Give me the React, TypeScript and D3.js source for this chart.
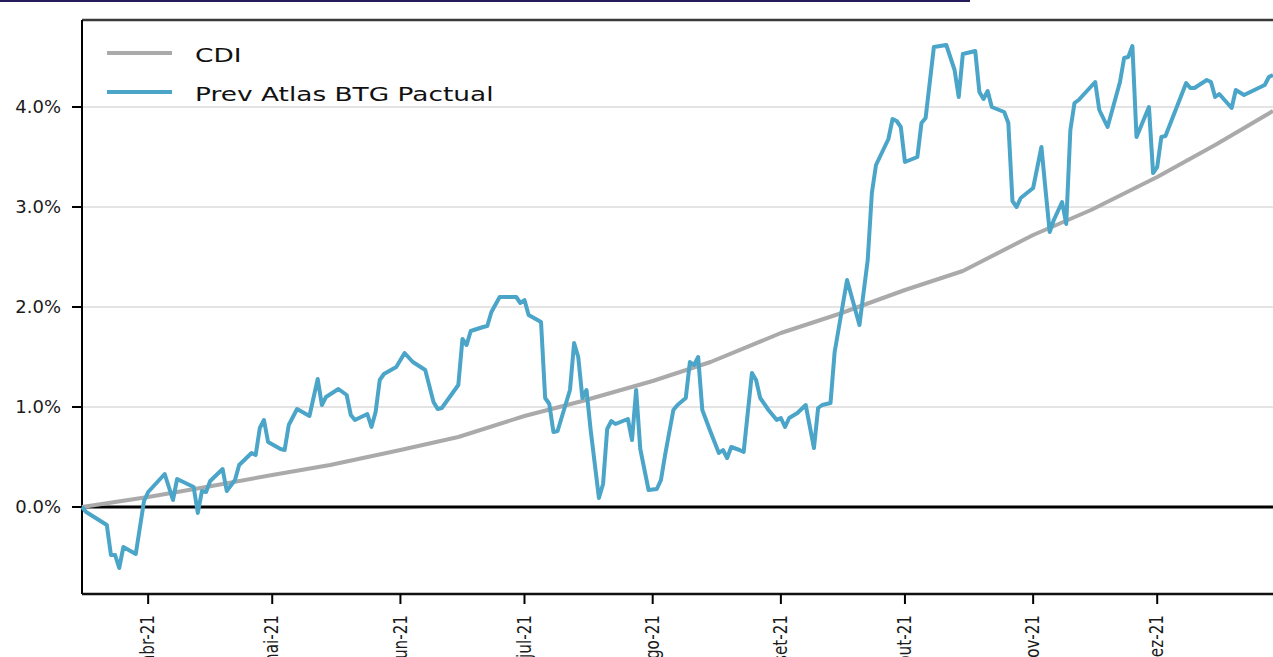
import React, { useEffect, useRef } from "react";
import * as d3 from "d3";

// Prev Atlas BTG Pactual vs CDI, accumulated return (%)
const fundDates = [
  "2021-03-16", "2021-03-17", "2021-03-22", "2021-03-23", "2021-03-24", "2021-03-25", "2021-03-26", "2021-03-29",
  "2021-03-31", "2021-04-01", "2021-04-05", "2021-04-07", "2021-04-08", "2021-04-12", "2021-04-13", "2021-04-14",
  "2021-04-15", "2021-04-16", "2021-04-19", "2021-04-20", "2021-04-22", "2021-04-23", "2021-04-26", "2021-04-27",
  "2021-04-28", "2021-04-29", "2021-04-30", "2021-05-03", "2021-05-04", "2021-05-05", "2021-05-07", "2021-05-10",
  "2021-05-12", "2021-05-13", "2021-05-14", "2021-05-17", "2021-05-19", "2021-05-20", "2021-05-21", "2021-05-24",
  "2021-05-25", "2021-05-26", "2021-05-27", "2021-05-28", "2021-05-31", "2021-06-02", "2021-06-04", "2021-06-07",
  "2021-06-09", "2021-06-10", "2021-06-11", "2021-06-15", "2021-06-16", "2021-06-17", "2021-06-18", "2021-06-21",
  "2021-06-22", "2021-06-23", "2021-06-25", "2021-06-28", "2021-06-29", "2021-06-30", "2021-07-01", "2021-07-02",
  "2021-07-05", "2021-07-06", "2021-07-07", "2021-07-08", "2021-07-09", "2021-07-12", "2021-07-13", "2021-07-14",
  "2021-07-15", "2021-07-16", "2021-07-17", "2021-07-19", "2021-07-20", "2021-07-21", "2021-07-22", "2021-07-23",
  "2021-07-26", "2021-07-27", "2021-07-28", "2021-07-29", "2021-07-31", "2021-08-02", "2021-08-03", "2021-08-04",
  "2021-08-06", "2021-08-07", "2021-08-09", "2021-08-10", "2021-08-11", "2021-08-12", "2021-08-13", "2021-08-15",
  "2021-08-17", "2021-08-18", "2021-08-19", "2021-08-20", "2021-08-22", "2021-08-23", "2021-08-25", "2021-08-26",
  "2021-08-27", "2021-08-29", "2021-08-31", "2021-09-01", "2021-09-02", "2021-09-03", "2021-09-05", "2021-09-07",
  "2021-09-09", "2021-09-10", "2021-09-11", "2021-09-13", "2021-09-14", "2021-09-17", "2021-09-20", "2021-09-22",
  "2021-09-23", "2021-09-24", "2021-09-27", "2021-09-28", "2021-09-29", "2021-09-30", "2021-10-01", "2021-10-04",
  "2021-10-05", "2021-10-06", "2021-10-08", "2021-10-11", "2021-10-13", "2021-10-14", "2021-10-15", "2021-10-18",
  "2021-10-19", "2021-10-20", "2021-10-21", "2021-10-22", "2021-10-25", "2021-10-26", "2021-10-27", "2021-10-28",
  "2021-10-29", "2021-11-01", "2021-11-03", "2021-11-04", "2021-11-05", "2021-11-06", "2021-11-08", "2021-11-09",
  "2021-11-10", "2021-11-11", "2021-11-12", "2021-11-16", "2021-11-17", "2021-11-19", "2021-11-22", "2021-11-23",
  "2021-11-24", "2021-11-25", "2021-11-26", "2021-11-29", "2021-11-30", "2021-12-01", "2021-12-02", "2021-12-03",
  "2021-12-08", "2021-12-09", "2021-12-10", "2021-12-13", "2021-12-14", "2021-12-15", "2021-12-16", "2021-12-19",
  "2021-12-20", "2021-12-22", "2021-12-27", "2021-12-28", "2021-12-29",
];
const fundValues = [
  0.0, -0.05, -0.18, -0.48, -0.48, -0.61, -0.4, -0.47,
  0.06, 0.15, 0.33, 0.07, 0.28, 0.2, -0.06, 0.16,
  0.15, 0.26, 0.38, 0.16, 0.27, 0.42, 0.54, 0.52,
  0.79, 0.87, 0.65, 0.58, 0.57, 0.82, 0.98, 0.91,
  1.28, 1.02, 1.1, 1.18, 1.12, 0.92, 0.87, 0.93,
  0.8, 0.95, 1.27, 1.33, 1.4, 1.54, 1.45, 1.37,
  1.05, 0.98, 0.99, 1.22, 1.68, 1.62, 1.76, 1.8,
  1.81, 1.95, 2.1, 2.1, 2.1, 2.04, 2.07, 1.92,
  1.85, 1.09, 1.03, 0.75, 0.76, 1.17, 1.64, 1.5,
  1.09, 1.17, 0.77, 0.09, 0.23, 0.78, 0.86, 0.83,
  0.88, 0.67, 1.17, 0.58, 0.17, 0.18, 0.27, 0.52,
  0.97, 1.02, 1.09, 1.45, 1.42, 1.5, 0.97, 0.75,
  0.54, 0.57, 0.49, 0.6, 0.57, 0.55, 1.34, 1.27,
  1.09, 0.97, 0.87, 0.89, 0.8, 0.89, 0.94, 1.02,
  0.59, 0.99, 1.02, 1.04, 1.55, 2.27, 1.82, 2.47,
  3.14, 3.42, 3.68, 3.88, 3.86, 3.8, 3.45, 3.5,
  3.84, 3.89, 4.6, 4.62, 4.37, 4.1, 4.53, 4.56,
  4.15, 4.08, 4.16, 4.0, 3.95, 3.84, 3.06, 3.0,
  3.09, 3.19, 3.6, 3.17, 2.75, 2.87, 3.05, 2.83,
  3.77, 4.04, 4.07, 4.25, 3.97, 3.8, 4.25, 4.49,
  4.5, 4.61, 3.7, 4.0, 3.34, 3.4, 3.7, 3.71,
  4.24, 4.19, 4.19, 4.27, 4.25, 4.1, 4.13, 3.99,
  4.17, 4.12, 4.22, 4.3, 4.32,
];

const cdiDates = [
  "2021-03-16", "2021-04-01", "2021-04-15", "2021-05-01", "2021-05-15", "2021-06-01", "2021-06-15",
  "2021-07-01", "2021-07-15", "2021-08-01", "2021-08-15", "2021-09-01", "2021-09-15", "2021-10-01",
  "2021-10-15", "2021-11-01", "2021-11-15", "2021-12-01", "2021-12-15", "2021-12-29",
];
const cdiValues = [
  0.0, 0.1, 0.2, 0.32, 0.42, 0.57, 0.7,
  0.91, 1.06, 1.26, 1.45, 1.74, 1.93, 2.17,
  2.36, 2.72, 2.97, 3.3, 3.62, 3.96,
];

const monthTicks = [
  "2021-04-01", "2021-05-01", "2021-06-01", "2021-07-01", "2021-08-01",
  "2021-09-01", "2021-10-01", "2021-11-01", "2021-12-01",
];
const monthLabels = ["abr-21", "mai-21", "jun-21", "jul-21", "ago-21", "set-21", "out-21", "nov-21", "dez-21"];
const yTicks = [0, 1, 2, 3, 4];
const seriesNames = ["CDI", "Prev Atlas BTG Pactual"];
const seriesColors = ["#aaaaaa", "#4aa5c9"];

const App = () => {
  const chartRef = useRef(null);

  useEffect(() => {
    const width = 1273;
    const height = 657;
    const margin = { top: 20, right: 0, bottom: 63, left: 82 };
    const parse = d3.timeParse("%Y-%m-%d");

    const svg = d3.select(chartRef.current);
    svg.selectAll("*").remove();
    svg.attr("width", width).attr("height", height);

    const x = d3
      .scaleTime()
      .domain([parse("2021-03-16"), parse("2021-12-29")])
      .range([margin.left, width - margin.right]);

    const y = d3
      .scaleLinear()
      .domain([-0.87, 4.87])
      .range([height - margin.bottom, margin.top]);

    const font = "DejaVu Sans, Verdana, sans-serif";

    // cut-off title underline at the very top
    svg.append("rect").attr("x", 0).attr("y", 0).attr("width", 970).attr("height", 2).attr("fill", "#251c5e");

    // grid
    svg
      .selectAll(".grid")
      .data(yTicks.filter((d) => d !== 0))
      .enter()
      .append("line")
      .attr("x1", margin.left)
      .attr("x2", width)
      .attr("y1", (d) => y(d))
      .attr("y2", (d) => y(d))
      .attr("stroke", "#e4e4e4")
      .attr("stroke-width", 2);

    // zero line
    svg
      .append("line")
      .attr("x1", margin.left)
      .attr("x2", width)
      .attr("y1", y(0))
      .attr("y2", y(0))
      .attr("stroke", "#000")
      .attr("stroke-width", 3);

    // frame
    svg
      .append("line")
      .attr("x1", margin.left)
      .attr("x2", width)
      .attr("y1", margin.top)
      .attr("y2", margin.top)
      .attr("stroke", "#3a3a3a")
      .attr("stroke-width", 2.5);
    svg
      .append("line")
      .attr("x1", margin.left)
      .attr("x2", margin.left)
      .attr("y1", margin.top)
      .attr("y2", height - margin.bottom)
      .attr("stroke", "#000")
      .attr("stroke-width", 2);
    svg
      .append("line")
      .attr("x1", margin.left)
      .attr("x2", width)
      .attr("y1", height - margin.bottom)
      .attr("y2", height - margin.bottom)
      .attr("stroke", "#111")
      .attr("stroke-width", 2.5);

    // y axis
    const yAxis = svg.append("g");
    yTicks.forEach((t) => {
      yAxis
        .append("line")
        .attr("x1", margin.left - 10)
        .attr("x2", margin.left)
        .attr("y1", y(t))
        .attr("y2", y(t))
        .attr("stroke", "#000")
        .attr("stroke-width", 2);
      yAxis
        .append("text")
        .attr("x", margin.left - 21)
        .attr("y", y(t))
        .attr("dy", "0.36em")
        .attr("text-anchor", "end")
        .attr("font-family", font)
        .attr("font-size", 18)
        .attr("fill", "#1a1a1a")
        .text(d3.format(".1f")(t) + "%");
    });

    // x axis
    const xAxis = svg.append("g");
    monthTicks.forEach((t, i) => {
      const px = x(parse(t));
      xAxis
        .append("line")
        .attr("x1", px)
        .attr("x2", px)
        .attr("y1", height - margin.bottom)
        .attr("y2", height - margin.bottom + 10)
        .attr("stroke", "#000")
        .attr("stroke-width", 2);
      xAxis
        .append("text")
        .attr("transform", `translate(${px - 1},${height - margin.bottom + 21}) rotate(-90) scale(0.76,1)`)
        .attr("text-anchor", "end")
        .attr("dy", "0.36em")
        .attr("font-family", font)
        .attr("font-size", 20)
        .attr("fill", "#1a1a1a")
        .text(monthLabels[i]);
    });

    const line = d3
      .line()
      .x((d) => x(d[0]))
      .y((d) => y(d[1]))
      .curve(d3.curveLinear);

    const cdi = cdiDates.map((d, i) => [parse(d), cdiValues[i]]);
    const fund = fundDates.map((d, i) => [parse(d), fundValues[i]]);

    svg
      .append("path")
      .datum(cdi)
      .attr("d", line)
      .attr("fill", "none")
      .attr("stroke", seriesColors[0])
      .attr("stroke-width", 4)
      .attr("stroke-linejoin", "round");

    svg
      .append("path")
      .datum(fund)
      .attr("d", line)
      .attr("fill", "none")
      .attr("stroke", seriesColors[1])
      .attr("stroke-width", 4)
      .attr("stroke-linejoin", "round");

    // legend
    const legend = svg.append("g");
    seriesNames.forEach((name, i) => {
      const ly = 53 + i * 39;
      legend
        .append("line")
        .attr("x1", 107)
        .attr("x2", 172)
        .attr("y1", ly)
        .attr("y2", ly)
        .attr("stroke", seriesColors[i])
        .attr("stroke-width", 4);
      legend
        .append("text")
        .attr("transform", `translate(195,${ly + 9}) scale(1.32,1)`)
        .attr("font-family", font)
        .attr("font-size", 20)
        .attr("fill", "#111")
        .text(name);
    });
  }, []);

  return (
    <svg
      ref={chartRef}
      style={{ position: "absolute", left: 0, top: 0, display: "block", background: "#fff" }}
    ></svg>
  );
};

export default App;
